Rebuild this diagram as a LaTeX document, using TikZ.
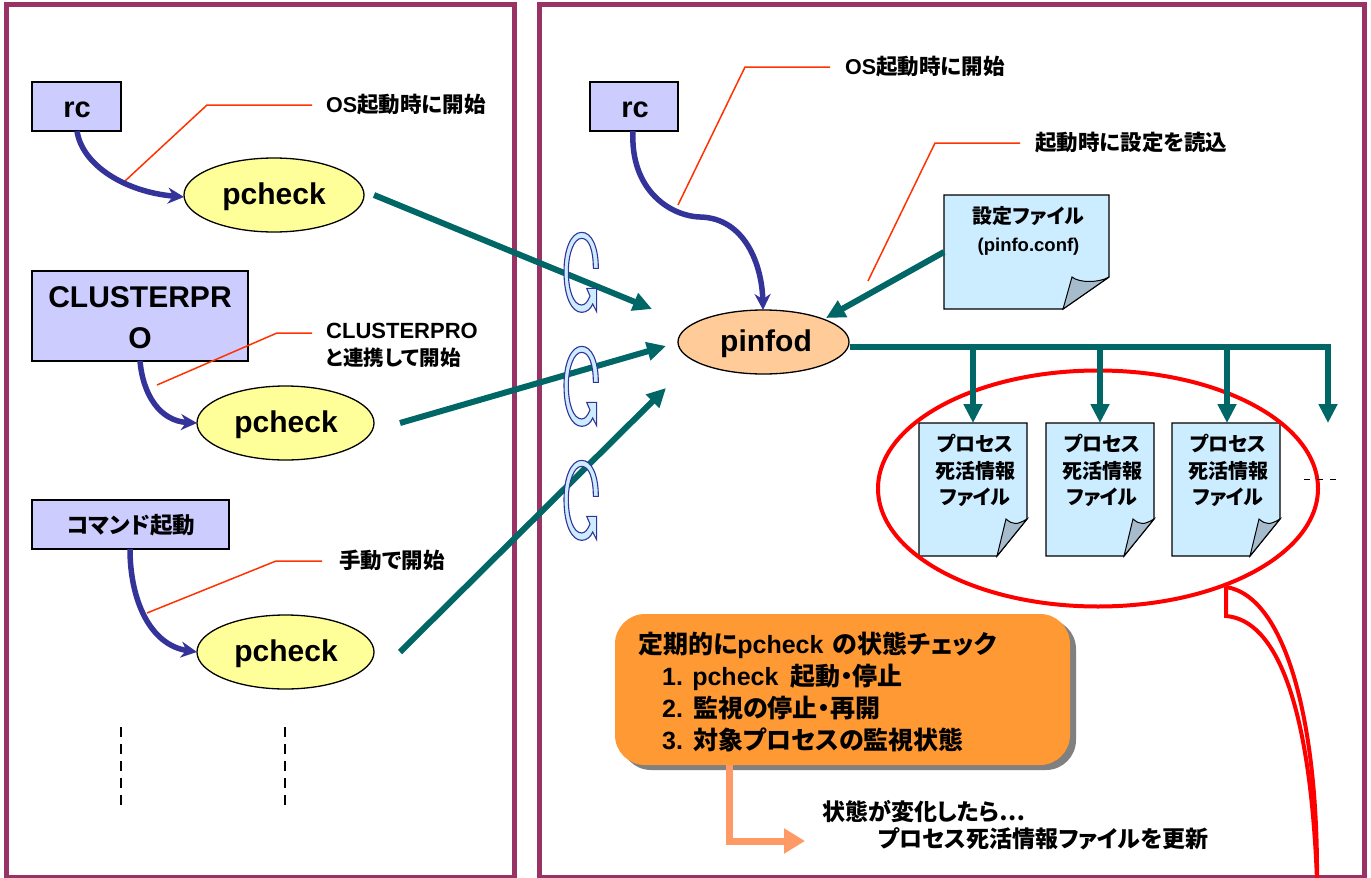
\documentclass[tikz,border=0pt]{standalone}
\usepackage{fontspec}
\setmainfont{Liberation Sans}
\newfontfamily\jp[RawFeature=+palt]{Noto Sans CJK JP}
\newcommand{\J}[1]{{\jp #1}}
\newcommand{\fs}[2]{\fontsize{#1}{#2}\selectfont\bfseries}
\usetikzlibrary{arrows.meta,calc,shapes.geometric}
\definecolor{panelc}{HTML}{993366}
\definecolor{tealc}{HTML}{006666}
\definecolor{bluec}{HTML}{333399}
\definecolor{boxc}{HTML}{CCCCFF}
\definecolor{yelc}{HTML}{FFFF99}
\definecolor{peachc}{HTML}{FFCC99}
\definecolor{docc}{HTML}{CCECFF}
\definecolor{curlc}{HTML}{A6BCCC}
\definecolor{leadc}{HTML}{FF3300}
\definecolor{orangec}{HTML}{FF9933}
\definecolor{peacharrow}{HTML}{FF9966}
\tikzset{
  panel/.style={draw=panelc,line width=5pt},
  srcbox/.style={draw=black,line width=1.3pt,fill=boxc,inner sep=0pt,align=center},
  proc/.style={ellipse,draw=black,line width=1.3pt,inner sep=0pt},
  proctext/.style={inner sep=0pt,align=center,font=\fs{30}{32}},
  startarrow/.style={draw=bluec,line width=5.5pt,-{Stealth[length=16pt,width=16pt]}},
  tealarrow/.style={draw=tealc,line width=6pt,-{Triangle[length=19pt,width=18pt]}},
  leader/.style={draw=leadc,line width=1.5pt},
  lab/.style={anchor=west,inner sep=0pt,align=left,font=\fs{21.5}{27}},
  docbody/.style={draw=black,line width=1.3pt,fill=docc},
  doccurl/.style={draw=black,line width=1pt,fill=curlc},
  doctext/.style={inner sep=0pt,align=center,font=\fs{20}{26.5}},
  boxline/.style={anchor=west,inner sep=0pt,font=\fs{25}{30}},
  noteline/.style={anchor=west,inner sep=0pt,font=\fs{23}{26}},
  cyc/.pic={
    \draw[bluec,line width=1.1pt,fill=docc,line join=miter]
      (160,205) -- (175,205) .. controls (175,140) and (155,97) .. (125,97)
      .. controls (92,97) and (72,150) .. (72,215)
      .. controls (72,290) and (95,337) .. (125,337)
      .. controls (140,337) and (152,327) .. (158,312)
      -- (170,335) -- (170,265) -- (140,265) -- (150,288)
      .. controls (143,305) and (135,315) .. (125,315)
      .. controls (100,315) and (85,270) .. (85,215)
      .. controls (85,160) and (102,115) .. (125,115)
      .. controls (147,115) and (160,150) .. (160,205) -- cycle;
  }
}
% name, left, top, right, bottom, fold x, fold y, text
\newcommand{\docfile}[8]{
  \draw[docbody] (#2,#3) -- (#4,#3) -- (#4,#7) -- (#6,#5) -- (#2,#5) -- cycle;
  \draw[doccurl] (#4,#7) .. controls ($(#4,#7)+(-10,6)$) and ($(#6,#7)+(16,6)$) .. ($(#6,#7)+(9,0)$) -- (#6,#5) -- cycle;
  \node[doctext,anchor=north] (#1) at ({(#2+#4)/2+2},#3+11) {#8};
}
\begin{document}
\begin{tikzpicture}[x=1pt,y=-1pt]
\useasboundingbox (0,0) rectangle (1371,878);
\fill[white] (0,0) rectangle (1371,878);

% panels
\draw[panel] (6,4) rectangle (514,877);
\draw[panel] (539,4) rectangle (1364,877);

% left side nodes
\node[srcbox,minimum width=89pt,minimum height=49pt] (rcA) at (76.5,106.5) {};
\node[proctext,font=\fs{29}{30}] (rcAt) at (77,109.5) {rc};
\node[srcbox,minimum width=216pt,minimum height=90pt] (cp) at (140,316) {};
\node[proctext,font=\fs{30}{41}] (cpt) at (140,318) {CLUSTERPR\\O};
\node[srcbox,minimum width=197pt,minimum height=49pt] (cmd) at (130.5,524.5) {};
\node[proctext,font=\fs{22.5}{26}] (cmdt) at (131,525.5) {\J{コマンド起動}};
\node[proc,fill=yelc,minimum width=180pt,minimum height=74pt] (pA) at (274,195) {};
\node[proctext] (pAt) at (274,197) {pcheck};
\node[proc,fill=yelc,minimum width=177pt,minimum height=74pt] (pB) at (285.5,423) {};
\node[proctext] (pBt) at (286,425) {pcheck};
\node[proc,fill=yelc,minimum width=177pt,minimum height=74pt] (pC) at (285.5,652) {};
\node[proctext] (pCt) at (286,654) {pcheck};

% right side nodes
\node[srcbox,minimum width=88pt,minimum height=49pt] (rcB) at (634,106.5) {};
\node[proctext,font=\fs{29}{30}] (rcBt) at (635,109.5) {rc};
\node[proc,fill=peachc,minimum width=171pt,minimum height=64pt] (pinfod) at (763.5,342) {};
\node[proctext] (pinfodt) at (766,344) {pinfod};

% labels
\node[lab] (l1) at (326,104) {OS\J{起動時に開始}};
\node[lab] (l2) at (326,345) {{\fontsize{22}{27}\selectfont CLUSTERPRO}\\{\fontsize{20.5}{27}\selectfont\J{と連携して開始}}};
\node[lab] (l3) at (339,560) {\J{手動で開始}};
\node[lab] (l4) at (845,66) {OS\J{起動時に開始}};
\node[lab] (l5) at (1035,142) {\J{起動時に設定を読込}};

% leaders
\coordinate (a1) at (125,181); \coordinate (b1) at (207,105); \coordinate (c1) at (312,105);
\coordinate (a2) at (157,385); \coordinate (b2) at (277,333); \coordinate (c2) at (312,333);
\coordinate (a3) at (147,613); \coordinate (b3) at (276,561); \coordinate (c3) at (322,561);
\coordinate (a4) at (678,205); \coordinate (b4) at (745,67);  \coordinate (c4) at (830,67);
\coordinate (a5) at (868,281); \coordinate (b5) at (935,143); \coordinate (c5) at (1020,143);
\draw[leader] (a1) -- (b1) -- (c1);
\draw[leader] (a2) -- (b2) -- (c2);
\draw[leader] (a3) -- (b3) -- (c3);
\draw[leader] (a4) -- (b4) -- (c4);
\draw[leader] (a5) -- (b5) -- (c5);

% start arrows
\coordinate (rcAo) at (77,131); \coordinate (pAi) at (184,197);
\coordinate (cpo) at (140,361); \coordinate (pBi) at (197,423);
\coordinate (cmdo) at (130,549); \coordinate (pCi) at (197,652);
\coordinate (rcBo) at (633,131); \coordinate (pdi) at (763,310);
\draw[startarrow] (rcAo) .. controls (82,165) and (125,192) .. (pAi);
\draw[startarrow] (cpo) .. controls (143,395) and (160,421) .. (pBi);
\draw[startarrow] (cmdo) .. controls (130,600) and (150,645) .. (pCi);
\draw[startarrow] (rcBo) .. controls (630,190) and (670,216) .. (700,217) .. controls (745,218) and (762,265) .. (pdi);

% files
\docfile{conf}{944}{195}{1109}{309}{1063}{277}{\J{設定ファイル}\\[1.5pt]{\fontsize{18.5}{24}\selectfont (pinfo.conf)}}
\docfile{fa}{919}{423}{1027}{556}{997}{519}{\J{プロセス}\\\J{死活情報}\\\J{ファイル}}
\docfile{fb}{1046}{423}{1154}{556}{1124}{519}{\J{プロセス}\\\J{死活情報}\\\J{ファイル}}
\docfile{fc}{1172}{423}{1280}{556}{1250}{519}{\J{プロセス}\\\J{死活情報}\\\J{ファイル}}

% red ellipse and callout
\node[ellipse,draw=red,line width=4pt,minimum width=440pt,minimum height=236pt,inner sep=0pt] (ring) at (1098,488.5) {};
\coordinate (cA) at (1226,587);
\coordinate (cB) at (1226,616);
\coordinate (cC) at (1317,880);
\draw[red,line width=4pt] (cA) -- (cB) .. controls (1275,620) and (1310,700) .. (cC);
\draw[red,line width=4pt] (cA) .. controls (1285,596) and (1318,720) .. (cC);

% teal arrows
\coordinate (tA) at (374,195); \coordinate (hA) at (652,309);
\coordinate (tB) at (400,423); \coordinate (hB) at (666,346);
\coordinate (tC) at (400,652); \coordinate (hC) at (666,388);
\coordinate (tD) at (944,252); \coordinate (hD) at (826,318);
\draw[tealarrow] (tA) -- (hA);
\draw[tealarrow] (tB) -- (hB);
\draw[tealarrow] (tC) -- (hC);
\draw[tealarrow] (tD) -- (hD);
\coordinate (bus) at (1328,347);
\coordinate (busA) at (973,347); \coordinate (busB) at (1100,347); \coordinate (busC) at (1227,347);
\coordinate (endD) at (1328,423);
\draw[draw=tealc,line width=6pt] (pinfod.east |- bus) -- ($(bus)+(3,0)$);
\draw[tealarrow] (busA) -- (973,423);
\draw[tealarrow] (busB) -- (1100,423);
\draw[tealarrow] (busC) -- (1227,423);
\draw[tealarrow] (bus) -- (endD);

% rotation marks
\pic[scale=1/3] at (540,200) {cyc};
\pic[scale=1/3] at (540,314) {cyc};
\pic[scale=1/3] at (540,428) {cyc};

% orange box
\fill[gray] (621,619) [rounded corners=30pt] rectangle (1076,770);
\node[draw=none,fill=orangec,rounded corners=30pt,minimum width=455pt,minimum height=151pt,inner sep=0pt] (box) at (842.5,689.5) {};
\node[boxline] (bt1) at (638,645) {\J{定期的に}pcheck\hspace{9pt}\J{の状態チェック}};
\node[boxline] (bt2) at (662,677) {1. pcheck\hspace{12pt}\J{起動・停止}};
\node[boxline] (bt3) at (662,708) {2.\hspace{10pt}\J{監視の停止・再開}};
\node[boxline] (bt4) at (662,740) {3.\hspace{10pt}\J{対象プロセスの監視状態}};

% peach arrow and note
\coordinate (pk) at (729,765);
\coordinate (pe) at (805,841);
\draw[draw=peacharrow,line width=7pt,-{Triangle[length=21pt,width=24pt]}] (pk) |- (pe);
\node[noteline] (n1) at (822,812) {\J{状態が変化したら…}};
\node[noteline] (n2) at (878,839) {\J{プロセス死活情報ファイルを更新}};

% dashes
\coordinate (dA1) at (121,727); \coordinate (dA2) at (121,805);
\coordinate (dB1) at (285,727); \coordinate (dB2) at (285,805);
\coordinate (dC1) at (1304,479); \coordinate (dC2) at (1337,479);
\draw[black,line width=2pt,dash pattern=on 10pt off 7pt] (dA1) -- (dA2);
\draw[black,line width=2pt,dash pattern=on 10pt off 7pt] (dB1) -- (dB2);
\draw[black,line width=1pt,dash pattern=on 6pt off 7pt] (dC1) -- (dC2);
\end{tikzpicture}
\end{document}
